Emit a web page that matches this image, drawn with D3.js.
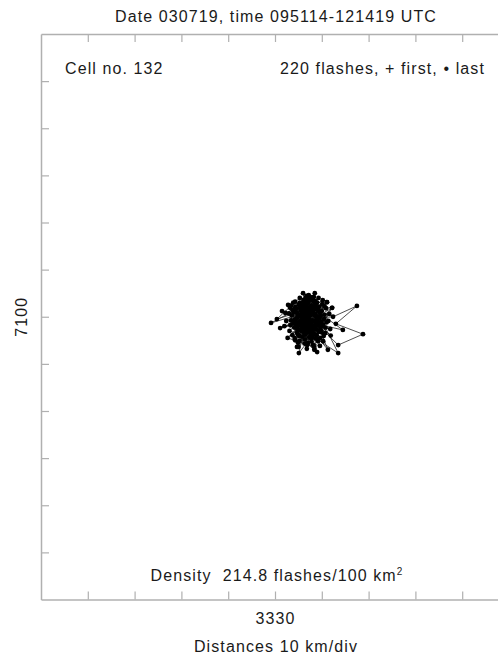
<!DOCTYPE html>
<html>
<head>
<meta charset="UTF-8">
<script src="https://d3js.org/d3.v7.min.js"></script>
<style>
  body { margin: 0; background: #fff; }
  svg text { font-family: "Liberation Sans", Arial, sans-serif; fill: #1a1a1a; letter-spacing: 1.1px; }
</style>
</head>
<body>
<svg id="chart" width="498" height="655"></svg>
<script>
// flash positions, km offsets from the centre tick (3330, 7100), in time order
const flashX = [
  6.2,7.5,5.8,8.4,6.9,4.7,9.1,7.8,5.3,8.8,
  6.4,7.1,9.6,5.1,6.7,8.2,4.2,7.4,10.3,6.0,
  8.6,5.6,7.9,3.8,9.4,6.5,7.2,4.9,8.9,6.1,
  10.6,5.4,7.6,3.3,8.3,6.8,9.9,5.9,7.3,4.4,
  2.8,6.3,8.1,5.0,9.3,7.0,4.1,10.9,6.6,8.7,
  5.7,1.5,7.7,9.0,4.6,6.9,11.4,5.2,8.0,3.6,
  7.3,6.0,9.7,4.3,8.5,6.4,2.4,10.1,7.0,5.5,
  8.8,6.2,11.1,4.8,7.6,9.2,3.1,6.7,10.4,5.3,
  0.4,7.9,6.1,8.3,4.5,9.8,5.8,7.2,3.9,11.8,
  6.6,8.6,5.0,9.5,2.0,7.4,6.3,10.7,4.0,8.1,
  6.9,5.6,12.2,7.8,3.5,9.0,6.0,8.4,4.7,10.0,
  1.1,7.1,5.9,8.9,6.5,9.6,4.2,7.5,11.0,5.4,
  8.2,6.8,3.0,9.3,6.2,10.5,4.9,7.7,8.5,5.7,
  -0.85,7.0,9.1,4.4,8.0,6.4,11.6,5.1,7.3,3.7,
  9.8,6.7,12.4,17.5,13.0,18.8,13.5,8.7,5.3,7.6,
  6.1,10.2,4.6,8.3,2.7,7.9,9.4,5.6,6.9,11.3,
  7.2,4.1,8.8,6.3,9.9,5.5,7.5,13.5,6.0,8.6,
  3.4,10.8,6.6,12.2,7.8,5.0,9.2,4.7,7.1,11.1,
  6.4,8.1,2.2,9.7,5.8,7.4,10.6,4.9,8.4,6.8,
  9.0,5.2,7.7,14.5,6.1,8.9,3.9,7.0,10.3,5.7,
  8.5,6.6,4.3,9.5,7.3,11.9,5.4,8.0,6.9,3.2,
  9.3,6.2,7.6,4.8,8.7,10.0,6.5,7.9,5.9,7.2
];
const flashY = [
  0.4,-1.2,1.9,0.3,-2.6,0.8,-0.9,2.4,-1.5,1.6,
  -0.3,3.1,0.9,2.6,-3.4,-2.1,-0.6,1.2,-1.7,-1.1,
  3.3,0.2,-3.1,1.4,2.1,1.6,-0.4,-2.8,-2.7,3.6,
  0.4,-0.9,0.7,-1.8,4.2,-1.9,-3.3,2.9,-4.4,2.1,
  2.5,-2.2,1.0,-3.9,-1.4,0.1,-2.3,1.8,4.1,-4.6,
  -0.2,1.2,-1.6,3.0,-1.2,2.0,-0.9,-5.1,-0.8,0.3,
  -2.9,0.9,-2.2,3.2,-1.0,-4.8,-0.9,2.7,-5.6,1.3,
  0.1,-3.3,3.1,-0.1,3.7,-5.2,-3.0,0.6,-4.1,4.0,
  -0.5,1.9,-2.5,-3.6,1.7,0.2,-4.2,4.6,-1.4,-2.6,
  -1.4,2.3,-6.4,-0.3,-2.0,-0.7,2.7,-3.5,0.9,-5.9,
  1.4,-2.0,1.9,-2.4,2.4,-1.8,5.0,-7.0,-3.4,1.2,
  -2.4,-1.0,-0.6,-3.9,3.3,-6.2,-4.5,0.3,-1.2,2.2,
  1.5,-6.8,0.7,4.0,-1.7,-0.5,-5.5,-4.0,5.0,0.6,
  -1.3,2.8,-4.7,-2.0,-2.2,0.0,0.6,-7.7,1.8,-3.9,
  -2.9,-0.5,0.0,2.3,-1.5,-3.7,-6.0,-1.3,3.0,-3.6,
  1.1,3.5,-0.4,-6.3,-4.5,0.9,-3.2,-3.0,3.9,-7.0,
  -2.0,1.6,2.8,-5.7,-1.1,-1.3,4.2,-7.7,-2.9,0.6,
  -0.8,-2.3,1.9,1.9,-5.2,0.5,1.4,-6.4,-0.2,3.1,
  -3.8,3.4,0.8,-4.5,1.5,-1.5,2.2,-1.8,-2.6,4.4,
  -7.5,-4.1,2.1,-2.8,-0.9,-0.5,3.0,-3.2,-5.2,-2.4,
  3.0,-1.1,-5.0,1.0,0.5,-4.0,1.8,-4.4,-6.0,1.9,
  0.0,2.4,-1.9,-2.6,-1.6,-2.0,-2.2,3.6,-0.1,-0.9
];
const centreX = 3330;
const centreY = 7100;
const xTicks = [3290, 3300, 3310, 3320, 3330, 3340, 3350, 3360, 3370];
const yTicks = [7050, 7060, 7070, 7080, 7090, 7100, 7110, 7120, 7130, 7140, 7150];

const titleText = "Date 030719, time 095114-121419 UTC";
const cellText = "Cell no. 132";
const countText = "220 flashes, + first, \u2022 last";
const densityText = "Density\u00a0 214.8 flashes/100 km";
const xLabel = "Distances 10 km/div";

const svg = d3.select("#chart");
const plotLeft = 41, plotTop = 34, plotBottom = 599.5;
const fs = 16;

const x = d3.scaleLinear().domain([3280, 3380]).range([plotLeft, plotLeft + 468]);
const y = d3.scaleLinear().domain([7040, 7160]).range([plotBottom, plotTop]);

const axisColor = "#b0b0b0";

function styleAxis(g) {
  g.select(".domain").attr("stroke", axisColor).attr("stroke-width", 1.5);
  g.selectAll(".tick line").attr("stroke", axisColor).attr("stroke-width", 1.2);
  g.selectAll(".tick text").attr("fill", "#1a1a1a").attr("font-size", fs)
    .attr("font-family", "Liberation Sans, Arial, sans-serif");
}

svg.append("g").attr("transform", `translate(0,${plotTop})`)
  .call(d3.axisTop(x).tickValues(xTicks).tickSize(-8).tickSizeOuter(0).tickFormat(""))
  .call(styleAxis);

svg.append("g").attr("transform", `translate(0,${plotBottom})`)
  .call(d3.axisBottom(x).tickValues(xTicks).tickSize(-8).tickSizeOuter(0).tickPadding(13)
    .tickFormat(d => d === centreX ? String(d) : ""))
  .call(styleAxis);

svg.append("g").attr("transform", `translate(${plotLeft},0)`)
  .call(d3.axisLeft(y).tickValues(yTicks).tickSize(-8).tickSizeOuter(0).tickFormat(""))
  .call(styleAxis);

// 7100 label, rotated
svg.append("text")
  .attr("transform", `translate(27,${y(centreY)}) rotate(-90)`)
  .attr("text-anchor", "middle").attr("font-size", fs)
  .text(String(centreY));

svg.append("text").attr("x", 276).attr("y", 21.5).attr("text-anchor", "middle")
  .attr("font-size", fs).text(titleText);
svg.append("text").attr("x", 65).attr("y", 74).attr("font-size", fs).text(cellText);
svg.append("text").attr("x", 485).attr("y", 74).attr("text-anchor", "end")
  .attr("font-size", fs).text(countText);

const dens = svg.append("text").attr("x", 277).attr("y", 581).attr("text-anchor", "middle")
  .attr("font-size", fs);
dens.append("tspan").text(densityText);
dens.append("tspan").attr("font-size", 10).attr("dy", -6).text("2");

svg.append("text").attr("x", 276).attr("y", 652).attr("text-anchor", "middle")
  .attr("font-size", fs).text(xLabel);

// flashes
const pts = flashX.map((d, i) => [centreX + d, centreY + flashY[i]]);

svg.append("path")
  .datum(pts)
  .attr("fill", "none")
  .attr("stroke", "#222")
  .attr("stroke-width", 0.8)
  .attr("d", d3.line().x(d => x(d[0])).y(d => y(d[1])));

svg.append("g").selectAll("circle")
  .data(pts.slice(1))
  .join("circle")
  .attr("cx", d => x(d[0]))
  .attr("cy", d => y(d[1]))
  .attr("r", 2.4)
  .attr("fill", "#000");

svg.append("path")
  .attr("d", d3.symbol(d3.symbolCross, 30)())
  .attr("transform", `translate(${x(pts[0][0])},${y(pts[0][1])})`)
  .attr("fill", "#000");
</script>
</body>
</html>
